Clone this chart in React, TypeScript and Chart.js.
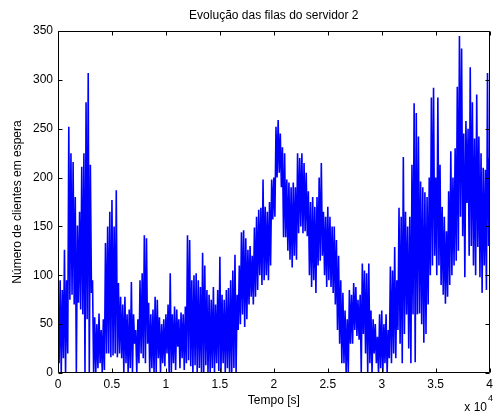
import React, { useEffect, useRef } from "react";
import { Chart, registerables } from "chart.js";

Chart.register(...registerables);

const TITLE = "Evolução das filas do servidor 2";
const X_LABEL = "Tempo [s]";
const Y_LABEL = "Número de clientes em espera";
const X_EXPONENT_BASE = "x 10";
const X_EXPONENT_POWER = "4";

const TIME_STEP_S = 100;
const X_TICKS = [0, 5000, 10000, 15000, 20000, 25000, 30000, 35000, 40000];
const X_TICK_LABELS = ["0", "0.5", "1", "1.5", "2", "2.5", "3", "3.5", "4"];
const Y_TICKS = [0, 50, 100, 150, 200, 250, 300, 350];

// Local maxima of the queue length, one every 2*TIME_STEP_S seconds
const QUEUE_PEAKS = [
  60, 95, 85, 126, 95,
  252, 225, 216, 180, 151,
  165, 211, 225, 277, 307,
  213, 95, 57, 50, 61,
  44, 55, 133, 150, 165,
  177, 150, 187, 92, 78,
  70, 78, 60, 65, 93,
  60, 44, 55, 95, 102,
  141, 138, 72, 60, 65,
  78, 75, 57, 50, 55,
  60, 70, 102, 60, 68,
  65, 55, 62, 60, 68,
  141, 136, 95, 100, 102,
  95, 88, 123, 110, 85,
  80, 75, 88, 70, 85,
  119, 80, 75, 85, 87,
  95, 105, 121, 80, 110,
  144, 146, 138, 126, 130,
  120, 149, 160, 167, 169,
  198, 170, 165, 175, 198,
  200, 252, 259, 245, 231,
  225, 198, 195, 190, 195,
  190, 225, 220, 225, 215,
  205, 186, 175, 180, 170,
  180, 200, 215, 165, 160,
  170, 160, 150, 150, 136,
  120, 95, 82, 64, 55,
  85, 80, 92, 88, 75,
  80, 112, 105, 102, 112,
  64, 55, 50, 37, 60,
  64, 50, 60, 44, 109,
  105, 129, 95, 169, 160,
  221, 165, 150, 160, 213,
  276, 266, 242, 196, 190,
  185, 180, 200, 282, 292,
  200, 282, 213, 170, 160,
  145, 186, 227, 200, 230,
  293, 345, 332, 245, 258,
  250, 313, 277, 240, 285,
  242, 225, 210, 208, 307,
  220,
];

// Local minima, each one TIME_STEP_S after the matching peak
const QUEUE_TROUGHS = [
  10, 0, 15, 0, 20,
  75, 80, 70, 0, 72,
  65, 60, 0, 55, 0,
  82, 0, 0, 5, 10,
  0, 3, 20, 20, 16,
  18, 20, 16, 20, 15,
  0, 10, 0, 5, 0,
  30, 0, 10, 20, 15,
  10, 30, 0, 5, 0,
  0, 15, 0, 10, 7,
  20, 0, 0, 10, 3,
  27, 5, 15, 3, 10,
  13, 7, 0, 8, 0,
  5, 0, 0, 8, 0,
  0, 5, 0, 10, 2,
  0, 10, 0, 5, 0,
  0, 5, 0, 44, 50,
  60, 47, 55, 70, 78,
  70, 78, 85, 100, 90,
  95, 100, 95, 110, 157,
  160, 200, 205, 190, 139,
  139, 125, 116, 108, 120,
  116, 143, 150, 143, 145,
  140, 100, 88, 95, 82,
  110, 115, 120, 100, 88,
  95, 88, 82, 70, 44,
  30, 10, 10, 0, 0,
  30, 30, 44, 38, 34,
  0, 40, 20, 0, 10,
  0, 20, 10, 0, 5,
  0, 10, 0, 15, 10,
  20, 15, 44, 30, 10,
  40, 60, 25, 10, 60,
  11, 60, 61, 50, 31,
  40, 70, 100, 110, 120,
  100, 110, 90, 80, 71,
  78, 90, 100, 110, 115,
  125, 160, 140, 98, 174,
  120, 130, 110, 100, 129,
  98, 82, 110, 85, 130,
];

const FONT = '"Liberation Sans", Arial, Helvetica, sans-serif';

const matlabFrame = {
  id: "matlabFrame",
  afterDraw(chart: any) {
    const { ctx, chartArea: a, scales } = chart;
    const L = Math.round(a.left) + 0.5;
    const R = Math.round(a.right) - 0.5;
    const T = Math.round(a.top) + 0.5;
    const B = Math.round(a.bottom) - 0.5;
    const tick = 4;
    ctx.save();
    ctx.strokeStyle = "#000";
    ctx.lineWidth = 1;
    ctx.beginPath();
    ctx.rect(L, T, R - L, B - T);
    for (const v of X_TICKS) {
      const px = Math.round(scales.x.getPixelForValue(v)) + 0.5;
      ctx.moveTo(px, B);
      ctx.lineTo(px, B - tick);
      ctx.moveTo(px, T);
      ctx.lineTo(px, T + tick);
    }
    for (const v of Y_TICKS) {
      const py = Math.round(scales.y.getPixelForValue(v)) + 0.5;
      ctx.moveTo(L, py);
      ctx.lineTo(L + tick, py);
      ctx.moveTo(R, py);
      ctx.lineTo(R - tick, py);
    }
    ctx.stroke();

    ctx.fillStyle = "#000";
    ctx.font = `12px ${FONT}`;
    ctx.textAlign = "center";
    ctx.textBaseline = "middle";
    const cx = (a.left + a.right) / 2;
    ctx.fillText(TITLE, cx, 16);
    ctx.fillText(X_LABEL, cx, 401);

    ctx.textAlign = "right";
    ctx.fillText(X_EXPONENT_BASE, 487, 408);
    ctx.font = `9px ${FONT}`;
    ctx.textAlign = "left";
    ctx.fillText(X_EXPONENT_POWER, 488, 399);

    ctx.font = `12px ${FONT}`;
    ctx.translate(18, (a.top + a.bottom) / 2);
    ctx.rotate(-Math.PI / 2);
    ctx.textAlign = "center";
    ctx.fillText(Y_LABEL, 0, 0);
    ctx.restore();
  },
};

export default function App() {
  const canvasRef = useRef<HTMLCanvasElement | null>(null);

  useEffect(() => {
    if (!canvasRef.current) return;
    const points: { x: number; y: number }[] = [];
    QUEUE_PEAKS.forEach((peak, i) => {
      points.push({ x: 2 * i * TIME_STEP_S, y: peak });
      if (i < QUEUE_TROUGHS.length) {
        points.push({ x: (2 * i + 1) * TIME_STEP_S, y: QUEUE_TROUGHS[i] });
      }
    });
    const chart = new Chart(canvasRef.current, {
      type: "line",
      data: {
        datasets: [
          {
            data: points,
            borderColor: "#0000ff",
            borderWidth: 1.6,
            pointRadius: 0,
            tension: 0,
            fill: false,
          },
        ],
      },
      options: {
        animation: false,
        responsive: false,
        devicePixelRatio: 1,
        parsing: false as any,
        layout: { padding: { top: 31, right: 4, left: 0, bottom: 0 } },
        plugins: {
          legend: { display: false },
          title: { display: false },
          tooltip: { enabled: false },
        },
        scales: {
          x: {
            type: "linear",
            min: 0,
            max: 40000,
            grid: { display: false, drawTicks: false },
            border: { display: false },
            afterBuildTicks: (scale: any) => {
              scale.ticks = X_TICKS.map((v) => ({ value: v }));
            },
            afterFit: (scale: any) => {
              scale.height = 43;
            },
            ticks: {
              padding: 4,
              color: "#000",
              maxRotation: 0,
              autoSkip: false,
              font: { family: FONT, size: 12 },
              callback: (value: any) => {
                const idx = X_TICKS.indexOf(Number(value));
                return idx >= 0 ? X_TICK_LABELS[idx] : "";
              },
            },
          },
          y: {
            type: "linear",
            min: 0,
            max: 350,
            grid: { display: false, drawTicks: false },
            border: { display: false },
            afterBuildTicks: (scale: any) => {
              scale.ticks = Y_TICKS.map((v) => ({ value: v }));
            },
            afterFit: (scale: any) => {
              scale.width = 58;
            },
            ticks: {
              padding: 5,
              color: "#000",
              autoSkip: false,
              font: { family: FONT, size: 12 },
              callback: (value: any) => String(value),
            },
          },
        },
      },
      plugins: [matlabFrame],
    });
    return () => chart.destroy();
  }, []);

  return (
    <div style={{ position: "absolute", left: 0, top: 0, width: 497, height: 416, background: "#fff" }}>
      <canvas ref={canvasRef} width={497} height={416} style={{ width: 497, height: 416, display: "block" }} />
    </div>
  );
}
